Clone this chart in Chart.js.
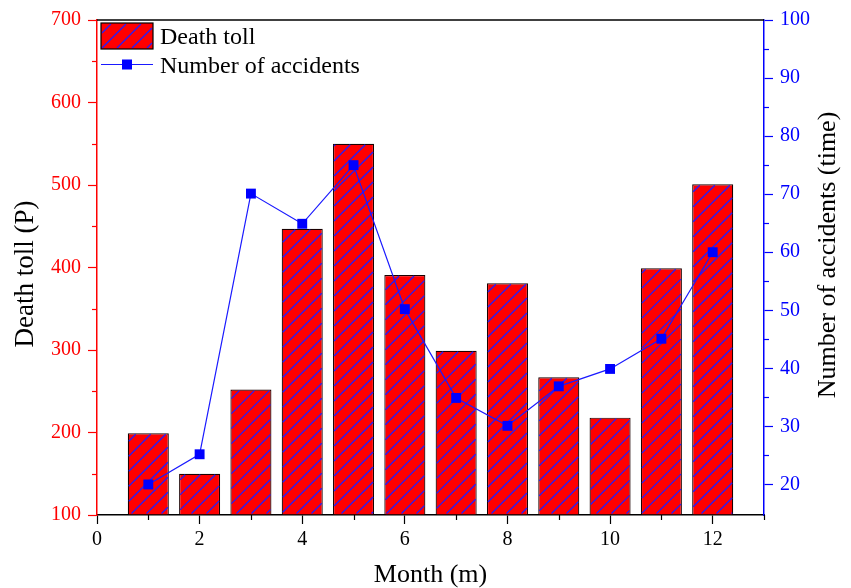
<!DOCTYPE html>
<html>
<head>
<meta charset="utf-8">
<script src="https://cdn.jsdelivr.net/npm/chart.js@4/dist/chart.umd.min.js"></script>
<style>
  html, body { margin: 0; padding: 0; background: #ffffff; }
  #wrap { width: 851px; height: 588px; }
</style>
</head>
<body>
<div id="wrap"><canvas id="c" width="851" height="588"></canvas></div>
<script>
// ---- data ----
const months = [1, 2, 3, 4, 5, 6, 7, 8, 9, 10, 11, 12];
const deathToll = [199, 150, 252, 447, 550, 391, 299, 381, 267, 218, 399, 501];
const accidents = [20, 25.2, 70.1, 64.9, 75, 50.2, 34.9, 30.1, 36.9, 39.9, 45.1, 60];

const xTicks = [0, 2, 4, 6, 8, 10, 12];
const xMinorTicks = [1, 3, 5, 7, 9, 11, 13];
const leftTicks = [100, 200, 300, 400, 500, 600, 700];
const leftMinorTicks = [150, 250, 350, 450, 550, 650];
const rightTicks = [20, 30, 40, 50, 60, 70, 80, 90, 100];
const rightMinorTicks = [25, 35, 45, 55, 65, 75, 85, 95];

const seriesLabels = ['Death toll', 'Number of accidents'];
const xTitle = 'Month (m)';
const leftTitle = 'Death toll (P)';
const rightTitle = 'Number of accidents (time)';

const SERIF = "'Liberation Serif', 'Times New Roman', serif";
const HATCH_COLOR = '#1f1fff';
const HATCH_STEP = 15;

// draw blue "/" hatching inside a rectangle (segments clipped analytically)
function hatchRect(ctx, l, t, r, b) {
  ctx.save();
  ctx.strokeStyle = HATCH_COLOR;
  ctx.lineWidth = 1.3;
  ctx.beginPath();
  const start = Math.floor((l + t) / HATCH_STEP) * HATCH_STEP;
  for (let c = start; c <= r + b; c += HATCH_STEP) {
    const y1 = Math.max(t, c - r);
    const y2 = Math.min(b, c - l);
    if (y2 - y1 < 0.5) continue;
    ctx.moveTo(c - y1, y1);
    ctx.lineTo(c - y2, y2);
  }
  ctx.stroke();
  ctx.restore();
}

const barHatch = {
  id: 'barHatch',
  afterDatasetDraw(chart, args) {
    const ds = chart.data.datasets[args.index];
    if (ds.type !== 'bar') return;
    const ctx = chart.ctx;
    args.meta.data.forEach(el => {
      const p = el.getProps(['x', 'y', 'base', 'width'], true);
      const l = p.x - p.width / 2, r = p.x + p.width / 2;
      const t = Math.min(p.y, p.base), b = Math.max(p.y, p.base);
      hatchRect(ctx, l + 1, t + 1, r - 1, b - 1);
    });
  }
};

const axisDecor = {
  id: 'axisDecor',
  afterDraw(chart) {
    const ctx = chart.ctx;
    const a = chart.chartArea;
    const sx = chart.scales.x, sy = chart.scales.y, sy1 = chart.scales.y1;
    ctx.save();
    // top frame line
    ctx.strokeStyle = '#000000';
    ctx.lineWidth = 1.5;
    ctx.beginPath();
    ctx.moveTo(a.left, a.top);
    ctx.lineTo(a.right, a.top);
    ctx.stroke();
    // minor ticks
    ctx.lineWidth = 1.2;
    ctx.strokeStyle = '#000000';
    xMinorTicks.forEach(v => {
      const px = Math.round(sx.getPixelForValue(v)) + 0.5;
      ctx.beginPath(); ctx.moveTo(px, a.bottom); ctx.lineTo(px, a.bottom + 5); ctx.stroke();
    });
    ctx.strokeStyle = '#ff0000';
    leftMinorTicks.forEach(v => {
      const py = Math.round(sy.getPixelForValue(v)) + 0.5;
      ctx.beginPath(); ctx.moveTo(a.left, py); ctx.lineTo(a.left - 5, py); ctx.stroke();
    });
    ctx.strokeStyle = '#0000ff';
    rightMinorTicks.forEach(v => {
      const py = Math.round(sy1.getPixelForValue(v)) + 0.5;
      ctx.beginPath(); ctx.moveTo(a.right, py); ctx.lineTo(a.right + 5, py); ctx.stroke();
    });

    // axis titles
    ctx.fillStyle = '#000000';
    ctx.font = '26px ' + SERIF;
    ctx.textAlign = 'center';
    ctx.textBaseline = 'alphabetic';
    ctx.fillText(xTitle, (a.left + a.right) / 2, 582);

    ctx.textBaseline = 'middle';
    ctx.save();
    ctx.font = '27px ' + SERIF;
    ctx.translate(26, 274);
    ctx.rotate(-Math.PI / 2);
    ctx.fillText(leftTitle, 0, 0);
    ctx.restore();

    ctx.save();
    ctx.translate(828, 255);
    ctx.rotate(-Math.PI / 2);
    ctx.fillText(rightTitle, 0, 0);
    ctx.restore();

    // legend
    const bar = chart.data.datasets[1];
    const line = chart.data.datasets[0];
    ctx.fillStyle = bar.backgroundColor;
    ctx.fillRect(101, 23, 52, 26);
    hatchRect(ctx, 102, 24, 152, 48);
    ctx.strokeStyle = '#000000';
    ctx.lineWidth = 1.2;
    ctx.strokeRect(101, 23, 52, 26);

    ctx.strokeStyle = line.borderColor;
    ctx.lineWidth = 1.2;
    ctx.beginPath(); ctx.moveTo(101, 64.5); ctx.lineTo(153, 64.5); ctx.stroke();
    ctx.fillStyle = line.pointBackgroundColor;
    ctx.fillRect(122, 59.5, 10, 10);

    ctx.fillStyle = '#000000';
    ctx.font = '24px ' + SERIF;
    ctx.textAlign = 'left';
    ctx.textBaseline = 'alphabetic';
    ctx.fillText(bar.label, 160, 44);
    ctx.fillText(line.label, 160, 73);
    ctx.restore();
  }
};

new Chart(document.getElementById('c'), {
  data: {
    datasets: [
      {
        type: 'line',
        label: seriesLabels[1],
        data: months.map((m, i) => ({ x: m, y: accidents[i] })),
        yAxisID: 'y1',
        xAxisID: 'x',
        borderColor: '#1a1aff',
        borderWidth: 1.2,
        pointStyle: 'rect',
        pointRadius: 7,
        pointBackgroundColor: '#0000ff',
        pointBorderWidth: 0,
        pointBorderColor: '#0000ff',
        tension: 0,
        fill: false,
        order: 0
      },
      {
        type: 'bar',
        label: seriesLabels[0],
        data: months.map((m, i) => ({ x: m, y: deathToll[i] })),
        yAxisID: 'y',
        xAxisID: 'x',
        backgroundColor: '#ff0000',
        borderColor: '#1a0000',
        borderWidth: 1.2,
        borderSkipped: 'bottom',
        barPercentage: 1.0,
        categoryPercentage: 0.8,
        base: 100,
        order: 1
      }
    ]
  },
  options: {
    responsive: false,
    animation: false,
    events: [],
    layout: { padding: { top: 20, left: 0, right: 0, bottom: 0 } },
    plugins: {
      legend: { display: false },
      tooltip: { enabled: false },
      title: { display: false }
    },
    scales: {
      x: {
        type: 'linear',
        position: 'bottom',
        min: 0,
        max: 13,
        offset: false,
        afterBuildTicks: s => { s.ticks = xTicks.map(v => ({ value: v })); },
        afterFit: s => { s.height = 73; },
        ticks: {
          color: '#000000',
          font: { family: SERIF, size: 20 },
          padding: 4,
          maxRotation: 0,
          autoSkip: false
        },
        grid: {
          offset: false,
          drawOnChartArea: false,
          drawTicks: true,
          tickLength: 9,
          tickColor: '#000000',
          tickWidth: 1.2
        },
        border: { display: true, color: '#000000', width: 1.5 }
      },
      y: {
        type: 'linear',
        position: 'left',
        min: 100,
        max: 700,
        afterBuildTicks: s => { s.ticks = leftTicks.map(v => ({ value: v })); },
        afterFit: s => { s.width = 97; },
        ticks: {
          color: '#ff0000',
          font: { family: SERIF, size: 20 },
          padding: 7
        },
        grid: {
          drawOnChartArea: false,
          drawTicks: true,
          tickLength: 9,
          tickColor: '#ff0000',
          tickWidth: 1.2
        },
        border: { display: true, color: '#ff0000', width: 1.5 }
      },
      y1: {
        type: 'linear',
        position: 'right',
        min: 14.74,
        max: 100,
        afterBuildTicks: s => { s.ticks = rightTicks.map(v => ({ value: v })); },
        afterFit: s => { s.width = 87; },
        ticks: {
          color: '#0000ff',
          font: { family: SERIF, size: 20 },
          padding: 7
        },
        grid: {
          drawOnChartArea: false,
          drawTicks: true,
          tickLength: 9,
          tickColor: '#0000ff',
          tickWidth: 1.2
        },
        border: { display: true, color: '#0000ff', width: 1.5 }
      }
    }
  },
  plugins: [barHatch, axisDecor]
});
</script>
</body>
</html>
